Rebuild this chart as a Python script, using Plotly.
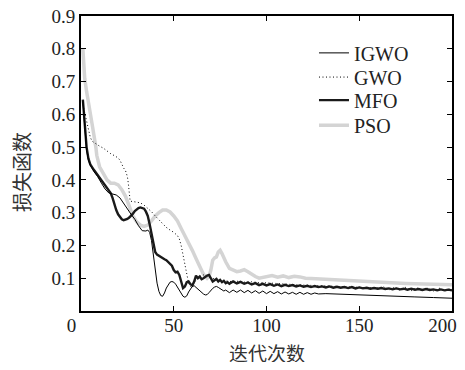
import plotly.graph_objects as go

# ---------------- data ----------------
igwo_x = [1,2,3,4,5,7,9,11,13,15,17,19,21,23,25,27,29,31,33,35,36,37,38,39,40,41,42,43,44,45,46,47,48,49,50,
          51,52,53,54,55,56,57,58,59,60,61,62,63,64,65,66,67,68,69,70,71,72,73,74,75,76,77,78,
          80,82,84,86,88,90,92,94,96,98,100,102,104,106,108,110,112,114,116,118,120,122,124,126,128,
          132,140,150,160,170,180,190,200]
igwo_y = [0.64,0.55,0.49,0.46,0.445,0.425,0.41,0.39,0.372,0.36,0.358,0.354,0.345,0.327,0.31,0.295,0.28,0.26,0.245,0.244,0.247,0.24,0.215,0.17,0.12,
          0.085,0.06,0.047,0.045,0.055,0.07,0.08,0.088,0.09,0.088,
          0.082,0.072,0.062,0.052,0.045,0.042,0.046,0.058,0.068,0.075,0.077,0.072,0.066,0.06,0.056,0.052,0.049,0.05,0.056,0.063,0.069,0.073,0.075,0.072,0.068,0.064,0.061,0.064,
          0.056,0.064,0.057,0.064,0.056,0.063,0.055,0.062,0.054,0.061,0.053,0.06,0.053,0.059,0.052,0.058,0.052,0.057,0.051,0.057,0.051,0.056,0.051,0.055,0.052,
          0.053,0.051,0.049,0.047,0.045,0.043,0.041,0.039]

gwo_x = [1,2,3,4,5,6,8,10,12,14,16,18,20,21,22,23,24,25,25.5,26,26.5,28,30,32,34,36,38,40,42,44,46,48,50,52,53,54,55,56,57,58,59,60,61,62,64,66,68,70,72,74,76,78,80,
         84,88,92,96,100,104,108,112,116,120,124,128,132,136,140,144,148,152,156,160,
         163,166,169,172,175,178,181,184,187,190,193,196,199,200]
gwo_y = [0.63,0.605,0.575,0.553,0.53,0.518,0.51,0.503,0.497,0.488,0.48,0.474,0.467,0.46,0.446,0.436,0.428,0.41,0.39,0.36,0.335,0.334,0.333,0.33,0.323,0.314,0.303,0.29,0.278,0.265,0.255,0.247,0.24,0.23,0.22,0.2,0.17,0.145,0.115,0.085,0.075,0.078,0.085,0.095,0.105,0.11,0.104,0.1,0.098,0.096,0.094,0.092,0.09,
         0.091,0.088,0.089,0.086,0.086,0.084,0.083,0.082,0.08,0.079,0.078,0.077,0.076,0.075,0.074,0.073,0.073,0.072,0.071,0.07,
         0.074,0.064,0.073,0.063,0.072,0.062,0.071,0.062,0.07,0.061,0.07,0.061,0.068,0.065]

mfo_x = [1,2,3,4,5,7,9,11,13,15,16,17,18,19,20,21,22,23,24,25,26,27,28,29,30,31,32,33,34,35,36,37,38,39,40,
         41,42,43,44,45,46,47,48,49,50,51,52,53,54,55,56,57,58,59,60,61,62,63,64,65,66,67,68,69,70,
         71,72,73,74,75,76,77,78,79,80,
         82,84,86,88,90,92,94,96,98,100,102,104,106,108,110,112,114,116,118,120,122,124,126,128,130,
         132,134,136,138,140,142,144,146,148,150,152,154,156,158,160,162,164,166,168,170,
         172,174,176,178,180,182,184,186,188,190,192,194,196,198,200]
mfo_y = [0.645,0.57,0.5,0.465,0.447,0.43,0.415,0.4,0.385,0.37,0.36,0.345,0.325,0.308,0.295,0.287,0.28,0.277,0.278,0.281,0.285,0.29,0.297,0.305,0.31,0.314,0.316,0.315,0.312,0.303,0.29,0.265,0.238,0.205,0.18,
         0.172,0.168,0.165,0.162,0.158,0.155,0.15,0.145,0.138,0.125,0.118,0.12,0.11,0.09,0.07,0.075,0.088,0.09,0.082,0.078,0.09,0.108,0.1,0.105,0.097,0.1,0.105,0.108,0.11,0.1,
         0.09,0.094,0.098,0.09,0.095,0.088,0.092,0.085,0.088,0.083,
         0.09,0.084,0.089,0.083,0.087,0.081,0.085,0.079,0.083,0.078,0.082,0.077,0.081,0.076,0.08,0.076,0.079,0.075,0.078,0.074,0.077,0.073,0.076,0.073,0.075,
         0.072,0.075,0.071,0.074,0.071,0.073,0.07,0.073,0.069,0.072,0.069,0.071,0.068,0.07,0.068,0.07,0.067,0.069,0.066,0.069,
         0.066,0.068,0.065,0.068,0.065,0.067,0.064,0.067,0.064,0.066,0.063,0.066,0.063,0.065,0.063]

pso_x = [1,2,3,4,5,6,7,7.5,8,8.5,9,10,
         12,14,16,18,20,22,24,26,28,30,32,34,36,38,40,42,44,46,48,50,52,54,56,58,60,62,64,66,
         68,69,70,71,72,73,74,75,76,77,78,
         80,82,84,86,88,90,92,94,96,98,100,
         103,106,109,112,115,118,121,124,127,130,
         135,140,145,150,155,160,165,170,175,180,185,190,195,200]
pso_y = [0.8,0.71,0.67,0.64,0.6,0.57,0.535,0.52,0.5,0.475,0.46,0.44,
         0.42,0.40,0.39,0.39,0.385,0.37,0.35,0.318,0.29,0.272,0.262,0.258,0.262,0.275,0.29,0.3,0.308,0.308,0.302,0.29,0.275,0.252,0.23,0.21,0.185,0.16,0.135,0.112,
         0.1,0.105,0.125,0.155,0.162,0.165,0.18,0.185,0.175,0.16,0.15,
         0.13,0.125,0.12,0.122,0.126,0.12,0.112,0.105,0.1,0.102,0.105,
         0.108,0.103,0.107,0.102,0.106,0.104,0.1,0.099,0.098,0.098,
         0.095,0.094,0.092,0.09,0.089,0.088,0.087,0.085,0.084,0.083,0.082,0.082,0.081,0.08]

x_ticks = [0, 50, 100, 150, 200]
x_tick_text = ["0", "50", "100", "150", "200"]
y_ticks = [0.1, 0.2, 0.3, 0.4, 0.5, 0.6, 0.7, 0.8, 0.9]
y_tick_text = ["0.1", "0.2", "0.3", "0.4", "0.5", "0.6", "0.7", "0.8", "0.9"]
x_title = "迭代次数"
y_title = "损失函数"

assert len(igwo_x) == len(igwo_y)
assert len(gwo_x) == len(gwo_y)
assert len(mfo_x) == len(mfo_y)
assert len(pso_x) == len(pso_y)

SERIF = "Liberation Serif"
CJK = "Noto Sans CJK SC"
NB = "\u00a0"

# in the reference the first and last x labels sit a little left of their ticks
x_tick_disp = [t + NB * 4 if t in ("0", "200") else t for t in x_tick_text]

fig = go.Figure()
fig.add_trace(go.Scatter(x=pso_x, y=pso_y, mode="lines", name="PSO", legend="legend4",
                         line=dict(color="#d4d4d4", width=3.5)))
fig.add_trace(go.Scatter(x=gwo_x, y=gwo_y, mode="lines", name="GWO", legend="legend2",
                         line=dict(color="#000000", width=1, dash="1px,2.5px")))
fig.add_trace(go.Scatter(x=mfo_x, y=mfo_y, mode="lines", name="MFO", legend="legend3",
                         line=dict(color="#1a1a1a", width=2.4)))
fig.add_trace(go.Scatter(x=igwo_x, y=igwo_y, mode="lines", name="IGWO", legend="legend",
                         line=dict(color="#000000", width=1)))

axis_common = dict(showline=True, linecolor="black", linewidth=2, mirror="ticks",
                   ticks="inside", ticklen=5, tickwidth=1.2, tickcolor="black",
                   showgrid=False, zeroline=False, automargin=False,
                   ticklabeloverflow="allow",
                   tickfont=dict(family=SERIF, size=19, color="#222"))

def leg(yc):
    return dict(x=0.628, y=yc, xanchor="left", yanchor="middle",
                bgcolor="rgba(0,0,0,0)", borderwidth=0,
                font=dict(family=SERIF, size=20, color="#222"))

# the page body adds an 8px offset, so the figure is sized/margined to compensate
fig.update_layout(
    width=449, height=354,
    margin=dict(l=73, r=5, t=8, b=51, autoexpand=False),
    paper_bgcolor="white", plot_bgcolor="white",
    showlegend=True,
    legend=leg(0.875), legend2=leg(0.793), legend3=leg(0.715), legend4=leg(0.63),
    xaxis=dict(range=[0, 200], tickvals=x_ticks, ticktext=x_tick_disp,
               ticklabelstandoff=-4, **axis_common),
    yaxis=dict(range=[0, 0.9], tickvals=y_ticks, ticktext=y_tick_text,
               **axis_common),
    annotations=[
        dict(text=x_title, xref="paper", yref="paper", x=0.5, y=-0.139,
             xanchor="center", yanchor="middle", showarrow=False,
             font=dict(family=CJK, size=19, color="#333")),
        dict(text=y_title, xref="paper", yref="paper", x=-0.162, y=0.471,
             xanchor="center", yanchor="middle", showarrow=False, textangle=-90,
             font=dict(family=CJK, size=20, color="#333")),
    ],
)

fig.write_html("out.html")
